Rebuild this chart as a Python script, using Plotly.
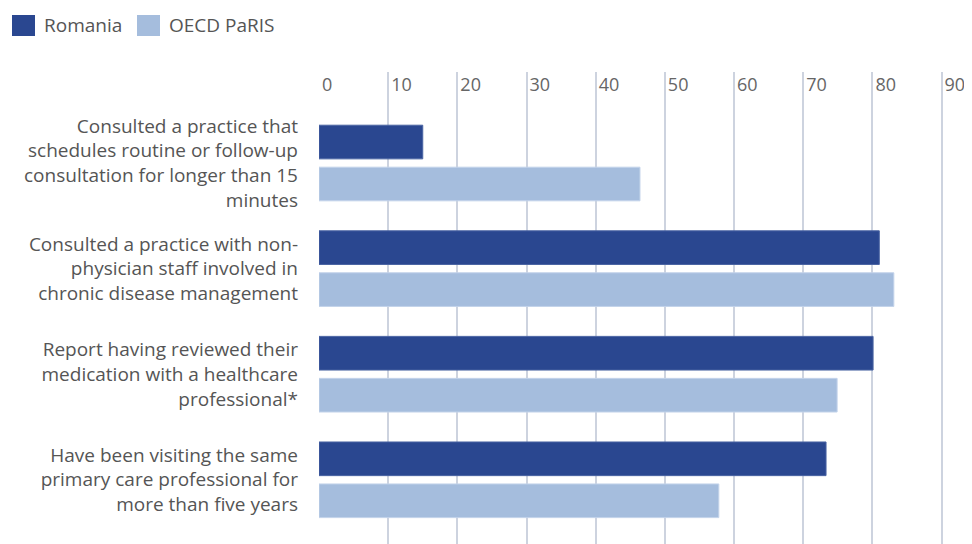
import plotly.graph_objects as go

categories = [
    "Consulted a practice that<br>schedules routine or follow-up<br>consultation for longer than 15<br>minutes",
    "Consulted a practice with non-<br>physician staff involved in<br>chronic disease management",
    "Report having reviewed their<br>medication with a healthcare<br>professional*",
    "Have been visiting the same<br>primary care professional for<br>more than five years",
]
series_names = ["Romania", "OECD PaRIS"]
romania = [15.0, 81.0, 80.1, 73.3]
oecd = [46.4, 83.1, 74.9, 57.8]
tick_vals = [0, 10, 20, 30, 40, 50, 60, 70, 80, 90]

c_ro = "#2A4790"
c_oe = "#A5BDDD"
font_fam = "Open Sans, Noto Sans, sans-serif"

fig = go.Figure()
fig.add_trace(go.Bar(y=categories, x=romania, orientation="h", name=series_names[0],
                     marker=dict(color=c_ro, line=dict(color="#4A64A3", width=1)),
                     showlegend=False))
fig.add_trace(go.Bar(y=categories, x=oecd, orientation="h", name=series_names[1],
                     marker=dict(color=c_oe, line=dict(color="#C3D3EA", width=1)),
                     showlegend=False))

# custom legend (pixel-anchored to plot area corner)
leg = [(series_names[0], c_ro, -307, -284, -277), (series_names[1], c_oe, -182, -159, -152)]
for name, col, x0, x1, tx in leg:
    fig.add_shape(type="rect", xref="paper", yref="paper", xsizemode="pixel", ysizemode="pixel",
                  xanchor=0, yanchor=1, x0=x0, x1=x1, y0=36, y1=57,
                  fillcolor=col, line=dict(width=0))
    fig.add_annotation(text=name, xref="paper", yref="paper", x=0, y=1, xshift=tx, yshift=47,
                       xanchor="left", yanchor="middle", showarrow=False,
                       font=dict(size=19, color="#555555", family=font_fam))

fig.update_layout(
    width=964, height=536,
    margin=dict(l=311, r=0, t=64, b=0, autoexpand=False),
    barmode="group", bargap=0.205, bargroupgap=0.198,
    plot_bgcolor="white", paper_bgcolor="white",
    font=dict(family=font_fam, color="#555555"),
    xaxis=dict(range=[0, 94.4], side="top", tickvals=tick_vals,
               ticklabelposition="inside right", ticklabelshift=3,
               showgrid=True, gridcolor="#CDD3DF", gridwidth=2, zeroline=False,
               showline=False, ticks="", tickfont=dict(size=18, color="#666666")),
    yaxis=dict(range=[3.608, -0.862], showgrid=False, zeroline=False, showline=False,
               ticks="", ticklabelstandoff=20, tickfont=dict(size=19, color="#555555")),
)

fig.write_html("out.html")
